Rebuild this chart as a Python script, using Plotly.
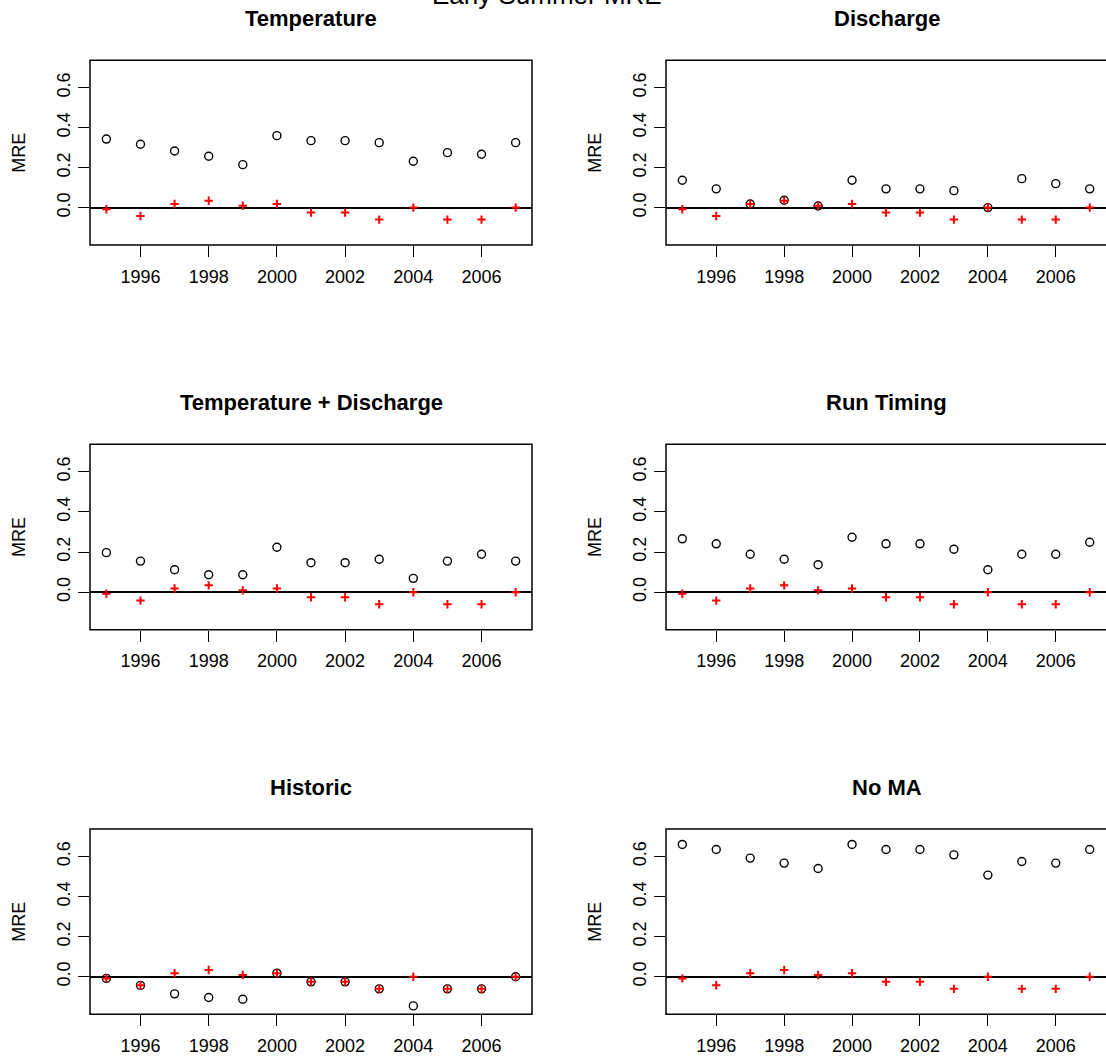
import plotly.graph_objects as go

# ---------------- data ----------------
years = list(range(1995, 2008))
observed_mre = [-0.008, -0.042, 0.018, 0.034, 0.009, 0.018, -0.025, -0.025, -0.060, 0.000, -0.060, -0.060, 0.000]

temperature = [0.343, 0.317, 0.283, 0.257, 0.215, 0.360, 0.335, 0.335, 0.325, 0.232, 0.275, 0.267, 0.325]
discharge = [0.137, 0.094, 0.018, 0.037, 0.008, 0.137, 0.094, 0.094, 0.085, 0.000, 0.145, 0.120, 0.094]
temp_discharge = [0.197, 0.155, 0.112, 0.087, 0.087, 0.224, 0.147, 0.147, 0.164, 0.069, 0.155, 0.189, 0.155]
run_timing = [0.266, 0.241, 0.189, 0.164, 0.137, 0.274, 0.241, 0.241, 0.214, 0.112, 0.189, 0.189, 0.249]
historic = [-0.008, -0.043, -0.085, -0.103, -0.112, 0.018, -0.025, -0.025, -0.060, -0.145, -0.060, -0.060, 0.000]
no_ma = [0.660, 0.635, 0.592, 0.567, 0.540, 0.660, 0.635, 0.635, 0.608, 0.507, 0.575, 0.567, 0.635]

panel_titles = ["Temperature", "Discharge", "Temperature + Discharge", "Run Timing", "Historic", "No MA"]
panel_series = [temperature, discharge, temp_discharge, run_timing, historic, no_ma]

x_tick_vals = [1996, 1998, 2000, 2002, 2004, 2006]
x_tick_text = ["1996", "1998", "2000", "2002", "2004", "2006"]
y_tick_vals = [0.0, 0.2, 0.4, 0.6]
y_tick_text = ["0.0", "0.2", "0.4", "0.6"]
suptitle = "Early Summer MRE"
y_label = "MRE"

# ---------------- layout geometry ----------------
W, H = 1106, 1063
col_px = [(90, 532), (666, 1106)]
row_px = [(60.3, 245.0), (444.3, 629.7), (829.0, 1014.3)]
x_range = [1994.52, 2007.48]
y_range = [-0.187, 0.737]
FONT = "Liberation Sans, Arial, sans-serif"

fig = go.Figure()
layout = dict(
    width=W, height=H,
    margin=dict(l=0, r=0, t=0, b=0),
    paper_bgcolor="white", plot_bgcolor="white",
    showlegend=False,
    font=dict(family=FONT, color="black"),
)
annotations = []
shapes = []

for i in range(6):
    r, c = divmod(i, 2)
    n = i + 1
    xa = "xaxis" if n == 1 else f"xaxis{n}"
    ya = "yaxis" if n == 1 else f"yaxis{n}"
    xr = "x" if n == 1 else f"x{n}"
    yr = "y" if n == 1 else f"y{n}"
    x0p, x1p = col_px[c]
    y0p, y1p = row_px[r]

    fig.add_trace(go.Scatter(
        x=years, y=panel_series[i], mode="markers", xaxis=xr, yaxis=yr,
        marker=dict(symbol="circle-open", size=8, color="black", line=dict(width=1.4, color="black")),
        hoverinfo="skip"))
    fig.add_trace(go.Scatter(
        x=years, y=observed_mre, mode="markers", xaxis=xr, yaxis=yr,
        marker=dict(symbol="cross-thin", size=6, color="red", line=dict(width=2, color="red")),
        hoverinfo="skip"))

    layout[xa] = dict(
        domain=[x0p / W, x1p / W], range=x_range, anchor=yr,
        tickmode="array", tickvals=x_tick_vals, ticktext=x_tick_text,
        ticks="outside", ticklen=11, tickwidth=1.3, tickcolor="black",
        showgrid=False, zeroline=False, showline=False,
        tickfont=dict(size=18, family=FONT, color="black"),
        ticklabelstandoff=4,
    )
    layout[ya] = dict(
        domain=[1 - y1p / H, 1 - y0p / H], range=y_range, anchor=xr,
        tickmode="array", tickvals=y_tick_vals, ticktext=y_tick_text,
        ticks="outside", ticklen=11, tickwidth=1.3, tickcolor="black",
        tickangle=-90,
        showgrid=False, zeroline=True, zerolinecolor="black", zerolinewidth=1.5,
        showline=False,
        tickfont=dict(size=18, family=FONT, color="black"),
        ticklabelstandoff=1,
    )
    shapes.append(dict(
        type="rect", xref=f"{xr} domain", yref=f"{yr} domain",
        x0=0, x1=(1 if c == 0 else 1.01), y0=0, y1=1,
        line=dict(color="black", width=1.5), layer="above"))
    # panel title
    cx = ((x0p + (x1p if c == 0 else 1107)) / 2) / W
    annotations.append(dict(
        text=f"<b>{panel_titles[i]}</b>", xref="paper", yref=f"{yr} domain",
        x=cx, y=1, xanchor="center", yanchor="bottom", yshift=27,
        showarrow=False, font=dict(size=22, family=FONT, color="black")))
    # y label
    annotations.append(dict(
        text=y_label, xref=f"{xr} domain", yref=f"{yr} domain",
        x=0, y=0.5, xanchor="center", yanchor="middle", xshift=-71,
        textangle=-90, showarrow=False,
        font=dict(size=18, family=FONT, color="black")))

annotations.append(dict(
    text=suptitle, xref="paper", yref="paper", x=547 / W, y=1,
    xanchor="center", yanchor="bottom", yshift=-12.5,
    showarrow=False, font=dict(size=26, family=FONT, color="black")))

layout["annotations"] = annotations
layout["shapes"] = shapes
fig.update_layout(**layout)
fig.write_html("out.html")
